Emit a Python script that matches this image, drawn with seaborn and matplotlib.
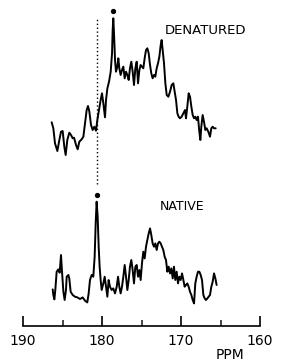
import numpy as np
import pandas as pd
import matplotlib
matplotlib.use("Agg")
import matplotlib.pyplot as plt
import seaborn as sns

# chemical shift (ppm) and intensity (arbitrary units)
denatured_ppm = [186.37, 186.16, 185.95, 185.65, 185.40, 185.19, 184.98, 184.77, 184.60, 184.39,
                 184.14, 183.92, 183.71, 183.54, 183.29, 183.08, 182.87, 182.57, 182.36, 182.15,
                 181.94, 181.77, 181.60, 181.39, 181.18, 180.97, 180.76, 180.59, 180.38, 180.17,
                 180.00, 179.83, 179.62, 179.49, 179.32, 179.11, 178.90, 178.73, 178.65, 178.57,
                 178.48, 178.35, 178.23, 178.06, 177.93, 177.81, 177.64, 177.47, 177.30, 177.13,
                 176.96, 176.79, 176.62, 176.46, 176.29, 176.12, 175.95, 175.78, 175.61, 175.44,
                 175.27, 175.11, 174.94, 174.77, 174.60, 174.43, 174.26, 174.09, 173.92, 173.76,
                 173.59, 173.42, 173.25, 173.08, 172.91, 172.74, 172.57, 172.45, 172.32, 172.15,
                 171.98, 171.81, 171.60, 171.39, 171.18, 170.97, 170.80, 170.63, 170.46, 170.30,
                 170.13, 169.92, 169.70, 169.49, 169.37, 169.20, 169.03, 168.86, 168.69, 168.52,
                 168.35, 168.19, 168.02, 167.85, 167.68, 167.55, 167.43, 167.26, 167.09, 166.92,
                 166.75, 166.54, 166.33, 166.16, 165.99, 165.82, 165.61]
denatured_int = [37.7, 31.7, 16.7, 9, 20, 28.3, 29, 13.3, 5, 20,
                 27.3, 25, 21.7, 22.3, 15, 10.7, 18.3, 20.7, 23.3, 36.7,
                 50, 54, 48.3, 35, 30, 33.3, 29.3, 40, 50, 60,
                 66.7, 56.7, 42.7, 60, 71.7, 78.3, 88.3, 106.7, 130, 141.7,
                 126.7, 100, 88.3, 93.3, 101.7, 91.7, 85, 90, 93.3, 81.7,
                 88.3, 85, 80, 91.7, 98.3, 88.3, 75, 91.7, 98.3, 76.7,
                 90, 95, 93.3, 91.7, 101.7, 110, 111.7, 106.7, 95, 86.7,
                 81.7, 85, 83.3, 91.7, 96.7, 103.3, 115, 120, 110, 96.7,
                 76.7, 65, 63.3, 68.3, 75, 76.7, 68.3, 60, 46.7, 43.3,
                 41.7, 43.3, 46.7, 50, 41.7, 53.3, 66.7, 63.3, 53.3, 45,
                 41.7, 43.3, 40, 43.3, 28.3, 20, 33.3, 45, 38.3, 30,
                 31.7, 28.3, 23.3, 31.7, 33.3, 31.7, 31.7]

native_ppm = [186.24, 186.16, 186.03, 185.91, 185.74, 185.53, 185.36, 185.19, 185.06, 184.89,
              184.73, 184.56, 184.47, 184.26, 184.14, 183.97, 183.71, 183.42, 183.12, 182.78,
              182.45, 182.15, 181.86, 181.69, 181.52, 181.31, 181.10, 180.93, 180.80, 180.68,
              180.55, 180.42, 180.30, 180.17, 180.04, 179.83, 179.66, 179.49, 179.32, 179.16,
              178.99, 178.78, 178.57, 178.35, 178.14, 177.97, 177.81, 177.64, 177.47, 177.30,
              177.13, 176.96, 176.79, 176.62, 176.46, 176.29, 176.12, 175.95, 175.78, 175.61,
              175.44, 175.27, 175.11, 174.94, 174.77, 174.60, 174.43, 174.26, 174.09, 173.92,
              173.76, 173.59, 173.42, 173.25, 173.08, 172.91, 172.74, 172.57, 172.41, 172.24,
              172.07, 171.90, 171.73, 171.56, 171.39, 171.22, 171.05, 170.89, 170.72, 170.55,
              170.38, 170.21, 170.04, 169.87, 169.70, 169.54, 169.37, 169.20, 169.03, 168.86,
              168.69, 168.52, 168.35, 168.19, 168.02, 167.85, 167.68, 167.51, 167.34, 167.17,
              167.00, 166.84, 166.67, 166.50, 166.33, 166.16, 165.99, 165.82, 165.65, 165.49]
native_int = [17.3, 11.7, 7.3, 16.7, 35, 37.3, 34, 51.7, 35, 15,
              6.7, 16.7, 30, 31.7, 28.3, 15, 11.7, 10, 9.3, 7.7,
              9.3, 6, 4.3, 13.3, 26.7, 31.7, 30, 50, 83.3, 105,
              90, 60, 40, 26.7, 16.7, 23.3, 30, 20, 10, 26.7,
              20, 16.7, 18.3, 13.3, 20, 30, 20, 13.3, 20, 30,
              41.7, 30, 16.7, 26.7, 40, 46.7, 36.7, 23.3, 40, 41.7,
              30, 36.7, 26.7, 43.3, 55, 48.3, 60, 66.7, 73.3, 78.3,
              71.7, 63.3, 60, 63.3, 56.7, 63.3, 65, 63.3, 60, 56.7,
              50, 46.7, 35, 40, 33.3, 38.3, 28.3, 40, 26.7, 35,
              23.3, 30, 26.7, 33.3, 26.7, 20, 21.7, 23.3, 20, 15,
              11.7, 6.7, 3.3, 23.3, 30, 35, 35, 31.7, 26.7, 11.7,
              8.3, 6.7, 8.3, 10, 11.7, 20, 25, 33.3, 28.3, 21.7]

native_ref_ppm = 180.6  # dotted reference line through the native peak

stack_offset = 146.7

df_den = pd.DataFrame({'ppm': denatured_ppm, 'y': np.array(denatured_int) + stack_offset})
df_nat = pd.DataFrame({'ppm': native_ppm, 'y': native_int})

sns.set_style("white")
plt.rcParams['font.family'] = ['DejaVu Sans']
plt.rcParams['text.color'] = 'black'

fig = plt.figure(figsize=(2.83, 3.63), dpi=100)
ax = fig.add_axes([23 / 283, 37 / 363, 237 / 283, 321 / 363])

sns.lineplot(data=df_den, x='ppm', y='y', ax=ax, color='black', lw=1.4,
             estimator=None, sort=False)
sns.lineplot(data=df_nat, x='ppm', y='y', ax=ax, color='black', lw=1.4,
             estimator=None, sort=False)

# dots marking the peaks
for d in (df_den, df_nat):
    top = d.loc[d['y'].idxmax()]
    ax.plot(top['ppm'], top['y'] + 7, 'o', color='black', ms=2.8)

ax.vlines(native_ref_ppm, 123, 289, colors='black', linestyles=(0, (1, 1.8)), lw=1.0)

ax.text(166.9, 275.7, 'DENATURED', ha='center', va='center', fontsize=9.5, color='black')
ax.text(169.9, 99.7, 'NATIVE', ha='center', va='center', fontsize=9, color='black')

ax.set_xlim(190, 160)
ax.set_ylim(-19.3, 301.7)
ax.set_xticks([190, 180, 170, 160])
ax.set_xticks([185, 175, 165], minor=True)
ax.set_yticks([])
ax.set_xlabel('')
ax.set_ylabel('')
for s in ['left', 'right', 'top']:
    ax.spines[s].set_visible(False)
ax.spines['bottom'].set_color('black')
ax.spines['bottom'].set_linewidth(1.2)
ax.tick_params(axis='x', which='major', direction='in', length=7, width=1.2,
               pad=6, labelsize=10, colors='black', bottom=True)
ax.tick_params(axis='x', which='minor', direction='in', length=4, width=1.2, bottom=True)
ax.set_facecolor('white')
fig.patch.set_facecolor('white')

fig.text(230 / 283, 1 - 355 / 363, 'PPM', ha='center', va='center', fontsize=10, color='black')

fig.savefig('out.png', dpi=100)
